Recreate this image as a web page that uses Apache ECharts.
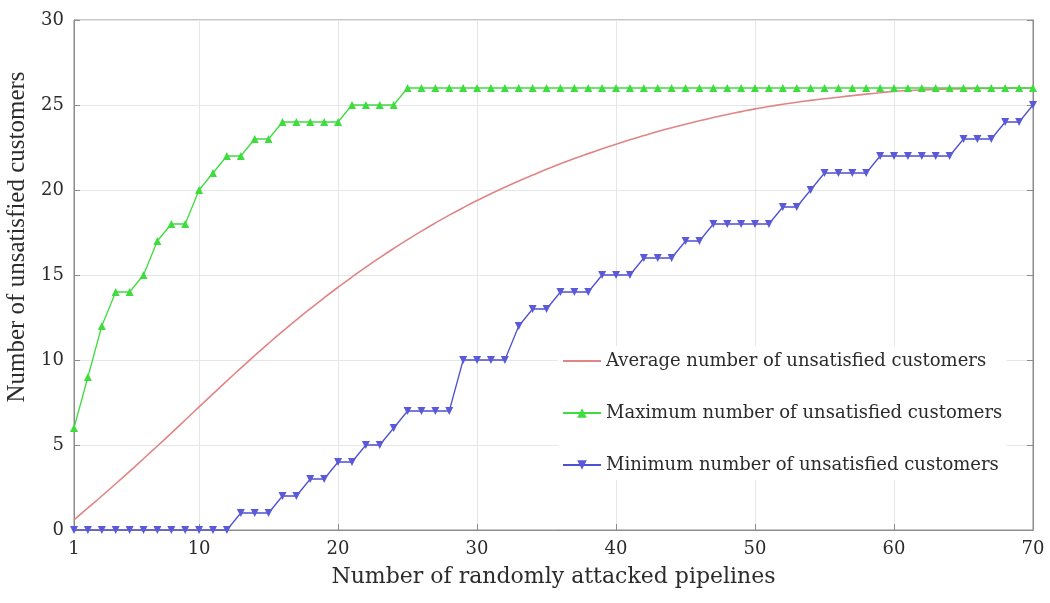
<!DOCTYPE html>
<html>
<head>
<meta charset="utf-8">
<script src="https://cdn.jsdelivr.net/npm/echarts@6/dist/echarts.min.js"></script>
<style>
  html, body { margin: 0; padding: 0; background: #fff; }
  #chart { width: 1050px; height: 603px; }
</style>
</head>
<body>
<div id="chart"></div>
<script>
// x: number of randomly attacked pipelines
const pipelines = Array.from({ length: 70 }, (_, i) => String(i + 1));
const xTickLabels = ['1', '10', '20', '30', '40', '50', '60', '70'];

const averageCustomers = [
  0.6, 1.30, 2.00, 2.72, 3.45, 4.19, 4.94, 5.70, 6.47, 7.24,
  8.01, 8.77, 9.52, 10.26, 10.98, 11.68, 12.36, 13.02, 13.66, 14.28,
  14.88, 15.46, 16.02, 16.56, 17.08, 17.58, 18.06, 18.52, 18.96, 19.38,
  19.78, 20.16, 20.53, 20.88, 21.22, 21.54, 21.85, 22.14, 22.42, 22.69,
  22.95, 23.20, 23.44, 23.66, 23.87, 24.07, 24.26, 24.44, 24.61, 24.77,
  24.91, 25.04, 25.16, 25.27, 25.37, 25.46, 25.55, 25.64, 25.72, 25.80,
  25.85, 25.89, 25.92, 25.94, 25.96, 25.97, 25.98, 25.99, 26.0, 26.0
];

const maxCustomers = [
  6, 9, 12, 14, 14, 15, 17, 18, 18, 20,
  21, 22, 22, 23, 23, 24, 24, 24, 24, 24,
  25, 25, 25, 25, 26, 26, 26, 26, 26, 26,
  26, 26, 26, 26, 26, 26, 26, 26, 26, 26,
  26, 26, 26, 26, 26, 26, 26, 26, 26, 26,
  26, 26, 26, 26, 26, 26, 26, 26, 26, 26,
  26, 26, 26, 26, 26, 26, 26, 26, 26, 26
];

const minCustomers = [
  0, 0, 0, 0, 0, 0, 0, 0, 0, 0,
  0, 0, 1, 1, 1, 2, 2, 3, 3, 4,
  4, 5, 5, 6, 7, 7, 7, 7, 10, 10,
  10, 10, 12, 13, 13, 14, 14, 14, 15, 15,
  15, 16, 16, 16, 17, 17, 18, 18, 18, 18,
  18, 19, 19, 20, 21, 21, 21, 21, 22, 22,
  22, 22, 22, 22, 23, 23, 23, 24, 24, 25
];

const FONT = 'DejaVu Serif';
const textColor = '#2b2b2b';
const axisColor = '#8c8c8c';

const showTick = (index, value) => xTickLabels.indexOf(String(value)) !== -1;

const chart = echarts.init(document.getElementById('chart'));

const option = {
  animation: false,
  backgroundColor: '#fff',
  grid: {
    left: 74, right: 17, top: 20, bottom: 73,
    outerBoundsMode: 'none',
    show: true, borderColor: axisColor, borderWidth: 1
  },
  legend: {
    orient: 'vertical',
    left: 558,
    top: 346,
    width: 452,
    backgroundColor: '#fff',
    padding: [6, 4, 6, 4],
    itemGap: 34,
    itemWidth: 38,
    itemHeight: 12,
    textStyle: { fontFamily: FONT, fontSize: 18, color: textColor },
    data: [
      { name: 'Average number of unsatisfied customers', itemStyle: { opacity: 0 } },
      'Maximum number of unsatisfied customers',
      'Minimum number of unsatisfied customers'
    ]
  },
  xAxis: {
    type: 'category',
    data: pipelines,
    boundaryGap: false,
    name: 'Number of randomly attacked pipelines',
    nameLocation: 'middle',
    nameGap: 36,
    nameTextStyle: { fontFamily: FONT, fontSize: 22, color: textColor },
    axisLine: { lineStyle: { color: axisColor } },
    axisTick: { inside: true, length: 6, interval: showTick, lineStyle: { color: axisColor } },
    axisLabel: { interval: showTick, margin: 10, fontFamily: FONT, fontSize: 18, color: textColor },
    splitLine: { show: true, interval: showTick, lineStyle: { color: '#e6e6e6' } }
  },
  yAxis: [
    {
      type: 'value',
      min: 0, max: 30, interval: 5,
      name: 'Number of unsatisfied customers',
      nameLocation: 'middle',
      nameGap: 42,
      nameTextStyle: { fontFamily: 'Liberation Serif', fontSize: 25, color: textColor, padding: [0, 0, 0, 76] },
      axisLine: { show: true, lineStyle: { color: axisColor } },
      axisTick: { show: true, inside: true, length: 6, lineStyle: { color: axisColor } },
      axisLabel: { margin: 10, fontFamily: FONT, fontSize: 18, color: textColor },
      splitLine: { show: true, lineStyle: { color: '#e6e6e6' } }
    },
    {
      type: 'value',
      position: 'right',
      min: 0, max: 30, interval: 5,
      axisLine: { show: true, lineStyle: { color: axisColor } },
      axisTick: { show: true, inside: true, length: 6, lineStyle: { color: axisColor } },
      axisLabel: { show: false },
      splitLine: { show: false }
    }
  ],
  series: [
    {
      name: 'Average number of unsatisfied customers',
      type: 'line',
      data: averageCustomers,
      smooth: true,
      showSymbol: false,
      symbol: 'none',
      z: 3,
      lineStyle: { color: '#e08585', width: 1.6 },
      itemStyle: { color: '#e08585' }
    },
    {
      name: 'Maximum number of unsatisfied customers',
      type: 'line',
      data: maxCustomers,
      symbol: 'triangle',
      symbolSize: 8,
      z: 4,
      lineStyle: { color: '#3fdc3f', width: 1.3 },
      itemStyle: { color: '#3fdc3f' }
    },
    {
      name: 'Minimum number of unsatisfied customers',
      type: 'line',
      data: minCustomers,
      symbol: 'triangle',
      symbolRotate: 180,
      symbolSize: 8,
      z: 5,
      lineStyle: { color: '#4f4fd2', width: 1.3 },
      itemStyle: { color: '#5a5ad8' }
    }
  ]
};

chart.setOption(option);
</script>
</body>
</html>
